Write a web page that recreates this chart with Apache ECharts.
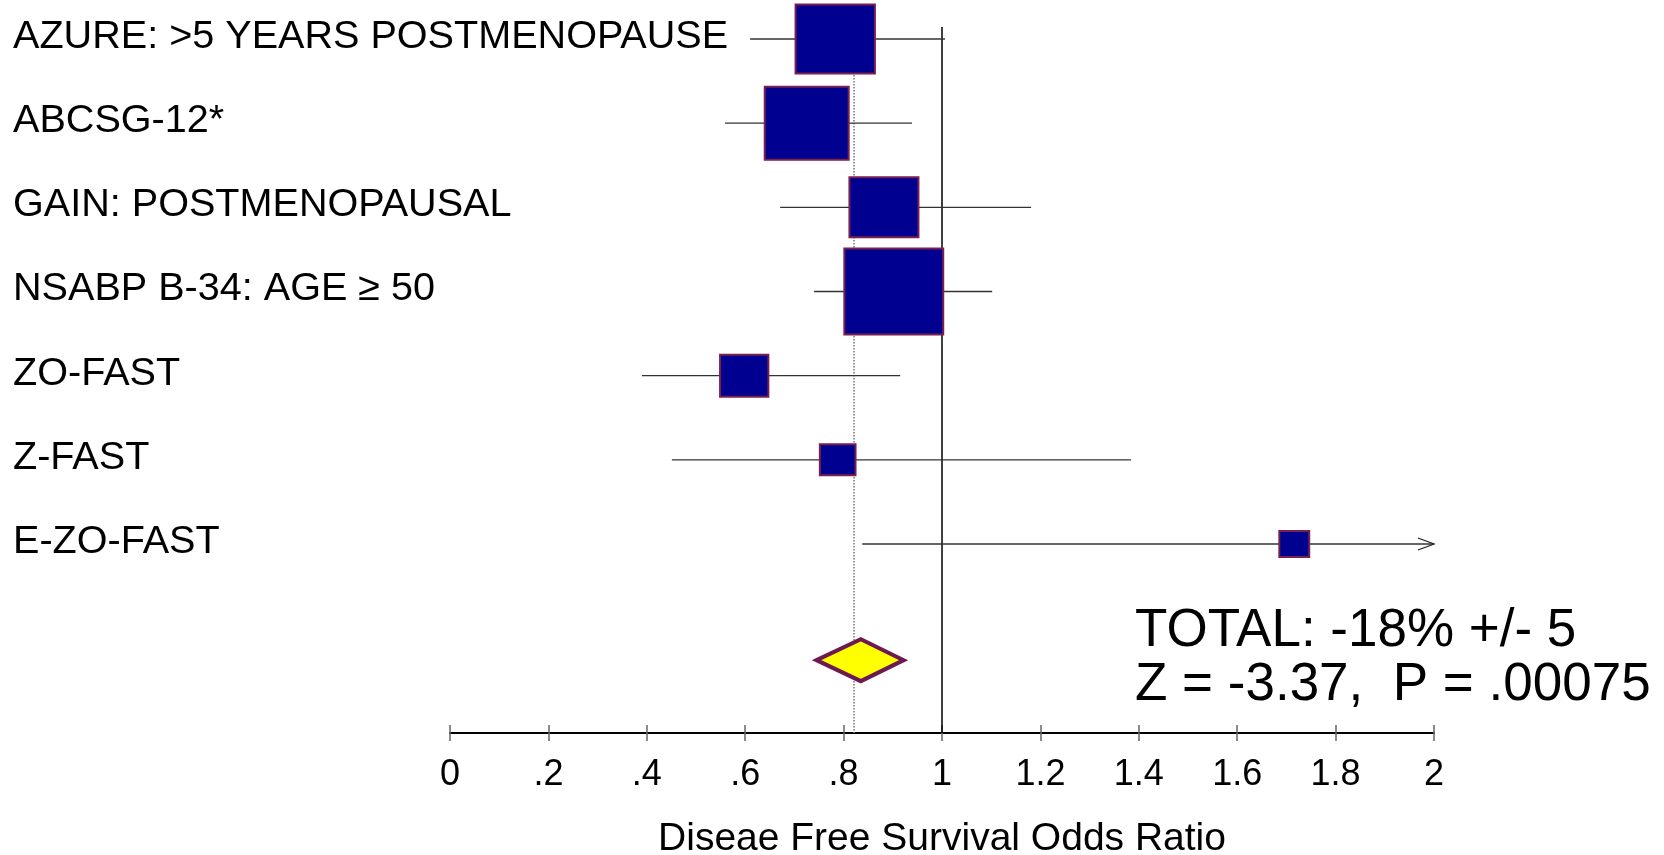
<!DOCTYPE html>
<html>
<head>
<meta charset="utf-8">
<script src="https://cdn.jsdelivr.net/npm/echarts@6/dist/echarts.min.js"></script>
<style>
  html, body { margin: 0; padding: 0; background: #fff; }
  #chart { width: 1664px; height: 855px; }
</style>
</head>
<body>
<div id="chart"></div>
<script>
// studies, top to bottom
const studies = [
  'AZURE: >5 YEARS POSTMENOPAUSE',
  'ABCSG-12*',
  'GAIN: POSTMENOPAUSAL',
  'NSABP B-34: AGE \u2265 50',
  'ZO-FAST',
  'Z-FAST',
  'E-ZO-FAST'
]
const oddsRatio = [0.783, 0.725, 0.882, 0.902, 0.598, 0.788, 1.716]
const ciLow = [0.61, 0.559, 0.671, 0.74, 0.39, 0.451, 0.838]
const ciHigh = [1.006, 0.939, 1.181, 1.102, 0.915, 1.384, 2.0]
const ciOpen = [0, 0, 0, 0, 0, 0, 1] // 1 = interval runs past the axis end
const weight = [69, 73, 60, 86, 42, 31, 26] // relative box size
const rowPos = [0, 1, 2, 3, 4, 5, 6]

// pooled result
const pooledEst = 0.835
const pooledLow = 0.745
const pooledHigh = 0.922
const pooledPos = 7.38
const pooledLine = 0.82
const nullLine = 1

const summaryLines = ['TOTAL: -18% +/- 5', 'Z = -3.37,  P = .00075']
const axisTitle = 'Diseae Free Survival Odds Ratio'

const FONT = "'Liberation Sans', Arial, sans-serif"

const chart = echarts.init(document.getElementById('chart'))

// 研究行：置信区间 + 方块 + 名称
const renderStudy = (params, api) => {
  const i = params.dataIndex
  const c = api.coord([api.value(0), api.value(1)])
  const l = api.coord([api.value(2), api.value(1)])
  const r = api.coord([api.value(3), api.value(1)])
  const h = api.value(4)
  const w = h * 1.15
  const children = [{
    type: 'line',
    shape: { x1: l[0], y1: c[1], x2: r[0], y2: c[1] },
    style: { stroke: '#333', lineWidth: 1.3 }
  }]
  if (api.value(5)) {
    children.push({
      type: 'polyline',
      shape: { points: [[r[0] - 16, c[1] - 6], [r[0], c[1]], [r[0] - 16, c[1] + 6]] },
      style: { stroke: '#222', lineWidth: 1.3, fill: null }
    })
  }
  children.push({
    type: 'rect',
    shape: { x: c[0] - w / 2, y: c[1] - h / 2, width: w, height: h },
    style: { fill: '#000090', stroke: '#7a1f4f', lineWidth: 2 }
  })
  children.push({
    type: 'text',
    style: {
      text: studies[i], x: 13, y: c[1] - 2,
      fill: '#000', fontSize: 39.6, fontFamily: FONT,
      align: 'left', verticalAlign: 'middle'
    }
  })
  return { type: 'group', children }
}

// 合并结果菱形
const renderPooled = (params, api) => {
  const c = api.coord([api.value(0), api.value(1)])
  const l = api.coord([api.value(2), api.value(1)])
  const r = api.coord([api.value(3), api.value(1)])
  const hh = 21
  return {
    type: 'polygon',
    shape: { points: [[l[0], c[1]], [c[0], c[1] - hh], [r[0], c[1]], [c[0], c[1] + hh]] },
    style: { fill: '#ffff00', stroke: '#6e1a52', lineWidth: 4 }
  }
}

const xAxisBase = {
  type: 'value',
  min: 0,
  max: 2,
  interval: 0.2,
  position: 'bottom',
  splitLine: { show: false }
}

const option = {
  animation: false,
  backgroundColor: '#fff',
  grid: {
    left: 450,
    right: 230,
    top: 27,
    bottom: 122,
    containLabel: false,
    outerBoundsMode: 'none'
  },
  xAxis: [
    {
      ...xAxisBase,
      axisLine: { show: true, onZero: false, lineStyle: { color: '#000', width: 2 } },
      axisTick: { show: true, length: 8, lineStyle: { color: '#666', width: 1.5 } },
      axisLabel: {
        show: true,
        margin: 24,
        color: '#000',
        fontSize: 36,
        fontFamily: FONT,
        hideOverlap: false,
        formatter: v => v === 0 ? '0' : String(Math.round(v * 10) / 10).replace(/^0\./, '.')
      },
      name: axisTitle,
      nameLocation: 'middle',
      nameGap: 87,
      nameTextStyle: { color: '#000', fontSize: 39, fontFamily: FONT }
    },
    {
      ...xAxisBase,
      axisLine: { show: false, onZero: false },
      axisTick: { show: true, inside: true, length: 8, lineStyle: { color: '#666', width: 1.5 } },
      axisLabel: { show: false }
    }
  ],
  yAxis: {
    type: 'value',
    inverse: true,
    min: -0.1426,
    max: 8.2454,
    show: false
  },
  graphic: summaryLines.map((t, i) => ({
    type: 'text',
    x: 1135,
    y: 631 + i * 54,
    style: {
      text: t, fill: '#000', fontSize: 53, fontFamily: FONT,
      align: 'left', verticalAlign: 'middle'
    }
  })),
  series: [
    {
      type: 'line',
      data: [],
      z: 1,
      markLine: {
        silent: true,
        z: 1,
        symbol: 'none',
        label: { show: false },
        data: [
          { xAxis: nullLine, lineStyle: { color: '#000', width: 1.5, type: 'solid' } },
          { xAxis: pooledLine, lineStyle: { color: '#777', width: 1.5, type: 'dotted' } }
        ]
      }
    },
    {
      type: 'custom',
      z: 10,
      renderItem: renderStudy,
      data: rowPos.map((p, i) => [oddsRatio[i], p, ciLow[i], ciHigh[i], weight[i], ciOpen[i]])
    },
    {
      type: 'custom',
      z: 10,
      renderItem: renderPooled,
      data: [[pooledEst, pooledPos, pooledLow, pooledHigh]]
    }
  ]
}

chart.setOption(option)
window.addEventListener('resize', () => chart.resize())
</script>
</body>
</html>
